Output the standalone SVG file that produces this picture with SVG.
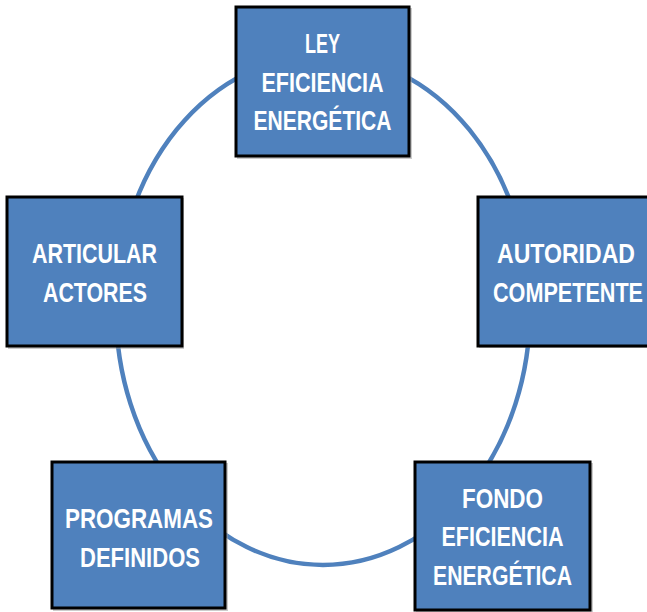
<svg xmlns="http://www.w3.org/2000/svg" width="647" height="612" viewBox="0 0 647 612">
<style>
.ring{fill:none;stroke:#4F81BD;stroke-width:4.5}
.box{fill:#4F81BD;stroke:#000;stroke-width:3}
.sh{fill:#9a9a9a;opacity:0.5}
.t{fill:#fff;font-family:"Liberation Sans",Arial,sans-serif;font-weight:bold;font-size:28px;text-anchor:middle}
</style>
<rect width="647" height="612" fill="#fff"/>
<g id="connectors">
<ellipse class="ring" cx="323" cy="310" rx="207" ry="255"/>
</g>
<g id="ley">
<rect class="sh" x="237" y="8" width="175" height="151"/>
<rect class="box" x="236" y="7" width="173" height="149"/>
<text class="t" x="322.5" y="53" textLength="35" lengthAdjust="spacingAndGlyphs">LEY</text>
<text class="t" x="322.5" y="92" textLength="122" lengthAdjust="spacingAndGlyphs">EFICIENCIA</text>
<text class="t" x="322.5" y="130" textLength="138" lengthAdjust="spacingAndGlyphs">ENERGÉTICA</text>
</g>
<g id="articular">
<rect class="sh" x="8" y="198" width="176" height="151"/>
<rect class="box" x="7" y="197" width="175" height="149"/>
<text class="t" x="94.5" y="263" textLength="125" lengthAdjust="spacingAndGlyphs">ARTICULAR</text>
<text class="t" x="95" y="302" textLength="104" lengthAdjust="spacingAndGlyphs">ACTORES</text>
</g>
<g id="autoridad">
<rect class="sh" x="479" y="198" width="172" height="150"/>
<rect class="box" x="478" y="197" width="175" height="149"/>
<text class="t" x="566" y="263" textLength="138" lengthAdjust="spacingAndGlyphs">AUTORIDAD</text>
<text class="t" x="568" y="302" textLength="150" lengthAdjust="spacingAndGlyphs">COMPETENTE</text>
</g>
<g id="programas">
<rect class="sh" x="53" y="463" width="175" height="148"/>
<rect class="box" x="52" y="462" width="173" height="146"/>
<text class="t" x="139" y="528" textLength="148" lengthAdjust="spacingAndGlyphs">PROGRAMAS</text>
<text class="t" x="140" y="567" textLength="120" lengthAdjust="spacingAndGlyphs">DEFINIDOS</text>
</g>
<g id="fondo">
<rect class="sh" x="416" y="463" width="177" height="150"/>
<rect class="box" x="415" y="462" width="175" height="148"/>
<text class="t" x="502.5" y="508" textLength="81" lengthAdjust="spacingAndGlyphs">FONDO</text>
<text class="t" x="502.5" y="546" textLength="122" lengthAdjust="spacingAndGlyphs">EFICIENCIA</text>
<text class="t" x="502.5" y="585" textLength="139" lengthAdjust="spacingAndGlyphs">ENERGÉTICA</text>
</g>
</svg>
